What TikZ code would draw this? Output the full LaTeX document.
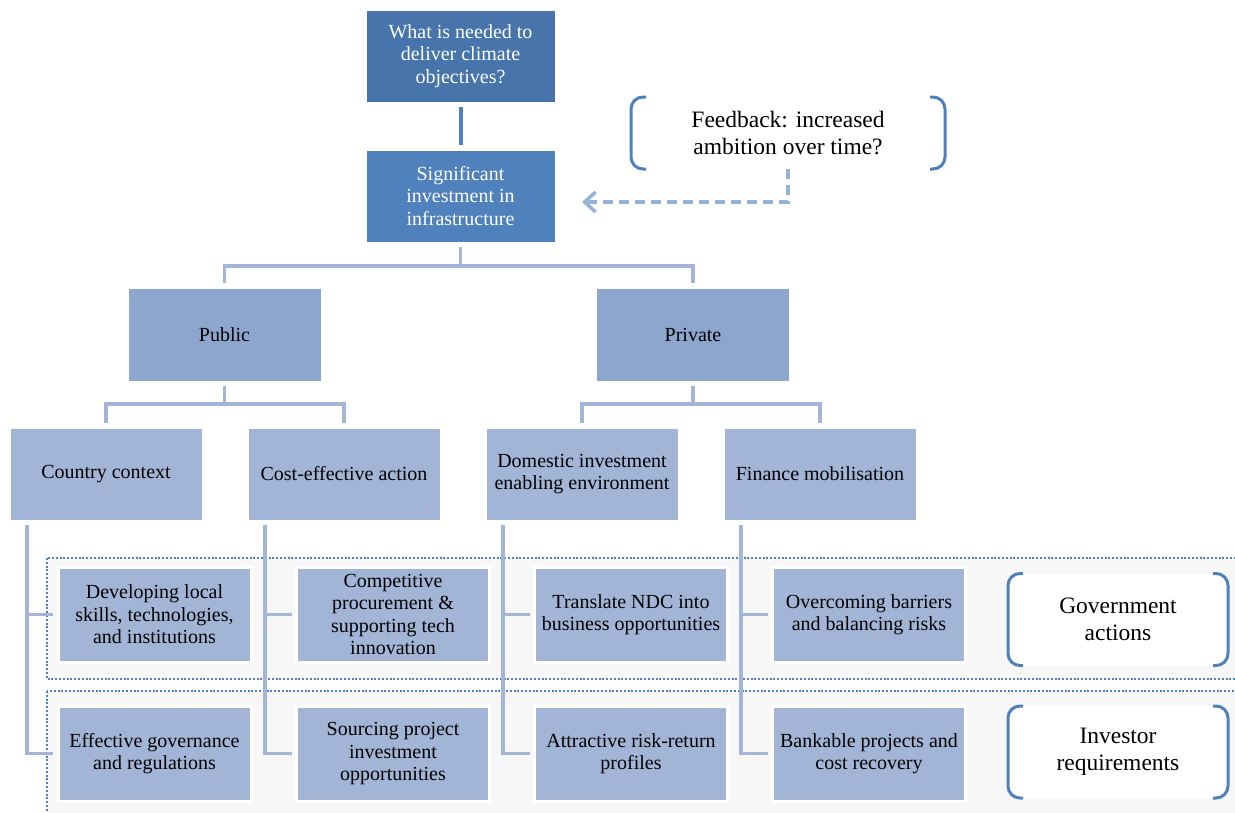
\documentclass[tikz,border=0pt]{standalone}
\usepackage{fontspec}
\setmainfont{Liberation Serif}
\usetikzlibrary{arrows.meta,calc}
\definecolor{topblue}{HTML}{4674AB}
\definecolor{midblue}{HTML}{4F81BD}
\definecolor{lvone}{HTML}{8CA6CE}
\definecolor{lvtwo}{HTML}{A2B5D6}
\definecolor{connc}{HTML}{A3B6D8}
\definecolor{dashc}{HTML}{95B3D7}
\definecolor{bandfill}{HTML}{F7F7F7}
\definecolor{brkc}{HTML}{4F81BD}
\tikzset{
  box/.style={rectangle, minimum width=193pt, minimum height=93pt, inner sep=2pt,
    align=center, font=\fontsize{20}{22.5}\selectfont, outer sep=5pt,
    draw=white, line width=1pt},
  rowbox/.style={box, fill=lvtwo, minimum height=95pt, line width=3pt},
  conn/.style={draw=connc, line width=3.5pt},
  conntop/.style={draw=midblue, line width=4pt},
  banddot/.style={draw=brkc, line width=2.5pt, dash pattern=on 2pt off 1.8pt},
  brk/.style={draw=brkc, line width=3pt, rounded corners=12pt},
  lab/.style={rectangle, minimum width=220pt, minimum height=92pt, outer sep=0pt,
    inner sep=0pt, align=center, font=\fontsize{23.5}{27}\selectfont},
  dasharr/.style={draw=dashc, line width=3.5pt, dash pattern=on 10pt off 6pt,
    -{Straight Barb[length=11pt,width=20pt]}}
}
\begin{document}
\begin{tikzpicture}[x=1pt,y=-1pt]
\useasboundingbox (0,0) rectangle (1235,812);
\clip (0,0) rectangle (1235,812);

% bands
\fill[bandfill] (47,558) rectangle (1250,679);
\draw[banddot] (47,558) rectangle (1250,679);
\fill[bandfill] (47,691) rectangle (1250,830);
\draw[banddot] (47,691) rectangle (1250,830);

% main nodes
\node[box, fill=topblue, text=white, minimum width=189pt, minimum height=92pt] (q) at (460.5,56) {What is needed to\\deliver climate\\objectives?};
\node[box, fill=midblue, text=white, minimum width=189pt, minimum height=92pt] (inv) at (460.5,196) {Significant\\investment in\\infrastructure};
\node[box, fill=lvone] (pub) at (224.5,334.5) {Public};
\node[box, fill=lvone] (priv) at (693,334.5) {Private};

\node[box, fill=lvtwo, minimum width=192pt, minimum height=92pt] (cc) at (106,474) {Country context};
\node[box, fill=lvtwo, minimum width=192pt, minimum height=92pt] (ce) at (344,474) {Cost-effective action};
\node[box, fill=lvtwo, minimum width=192pt, minimum height=92pt] (dom) at (582,474) {Domestic investment\\enabling environment};
\node[box, fill=lvtwo, minimum width=192pt, minimum height=92pt] (fin) at (820,474) {Finance mobilisation};

% connectors
\draw[conntop] (q.south) -- (inv.north);
\draw[conn] (inv.south) -- ++(0,19) -| (pub.north);
\draw[conn] (inv.south) ++(0,19) -| (priv.north);
\draw[conn] (pub.south) -- ++(0,18) -| (cc.north);
\draw[conn] (pub.south) ++(0,18) -| (ce.north);
\draw[conn] (priv.south) -- ++(0,18) -| (dom.north);
\draw[conn] (priv.south) ++(0,18) -| (fin.north);

% row boxes
\node[rowbox] (dev) at (154.5,614.5) {Developing local\\skills, technologies,\\and institutions};
\node[rowbox] (comp) at (393,614.5) {Competitive\\procurement \&\\supporting tech\\innovation};
\node[rowbox] (ndc) at (631,614.5) {Translate NDC into\\business opportunities};
\node[rowbox] (barr) at (869,614.5) {Overcoming barriers\\and balancing risks};
\node[rowbox] (eff) at (154.5,753.5) {Effective governance\\and regulations};
\node[rowbox] (src) at (393,753.5) {Sourcing project\\investment\\opportunities};
\node[rowbox] (risk) at (631,753.5) {Attractive risk-return\\profiles};
\node[rowbox] (bank) at (869,753.5) {Bankable projects and\\cost recovery};

\coordinate (ccd) at ($(cc.south west)+(22,0)$);
\coordinate (ced) at ($(ce.south west)+(22,0)$);
\coordinate (domd) at ($(dom.south west)+(22,0)$);
\coordinate (find) at ($(fin.south west)+(22,0)$);
\draw[conn] (ccd) |- (dev.west);
\draw[conn] (ccd) |- (eff.west);
\draw[conn] (ced) |- (comp.west);
\draw[conn] (ced) |- (src.west);
\draw[conn] (domd) |- (ndc.west);
\draw[conn] (domd) |- (risk.west);
\draw[conn] (find) |- (barr.west);
\draw[conn] (find) |- (bank.west);

% bracket labels
\node[lab, fill=white, rounded corners=12pt] (ga) at (1118,619.5) {Government\\actions};
\draw[brk] ([xshift=15pt]ga.north west) -- (ga.north west) -- (ga.south west) -- ([xshift=15pt]ga.south west);
\draw[brk] ([xshift=-15pt]ga.north east) -- (ga.north east) -- (ga.south east) -- ([xshift=-15pt]ga.south east);

\node[lab, fill=white, rounded corners=12pt] (ir) at (1118,752) {Investor\\requirements};
\draw[brk] ([xshift=15pt]ir.north west) -- (ir.north west) -- (ir.south west) -- ([xshift=15pt]ir.south west);
\draw[brk] ([xshift=-15pt]ir.north east) -- (ir.north east) -- (ir.south east) -- ([xshift=-15pt]ir.south east);

\node[lab, minimum width=314pt, minimum height=72pt] (fb) at (788,133) {Feedback: increased\\ambition over time?};
\draw[brk] ([xshift=15pt]fb.north west) -- (fb.north west) -- (fb.south west) -- ([xshift=15pt]fb.south west);
\draw[brk] ([xshift=-15pt]fb.north east) -- (fb.north east) -- (fb.south east) -- ([xshift=-15pt]fb.south east);

\draw[dasharr] (fb.south) |- ($(inv.east)+(22,6)$);
\end{tikzpicture}
\end{document}
